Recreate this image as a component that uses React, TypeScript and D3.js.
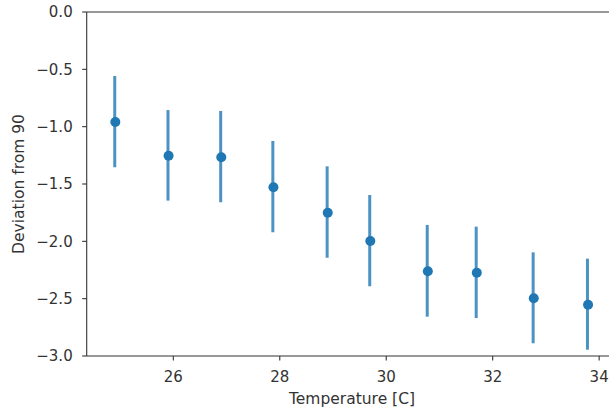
import React from "react";
import * as d3 from "d3";

const temps = [24.9, 25.9, 26.89, 27.87, 28.89, 29.69, 30.77, 31.69, 32.76, 33.78];
const means = [-0.959, -1.253, -1.267, -1.529, -1.75, -1.997, -2.261, -2.274, -2.497, -2.553];
const upper = [-0.558, -0.855, -0.863, -1.125, -1.346, -1.596, -1.857, -1.872, -2.096, -2.151];
const lower = [-1.354, -1.645, -1.659, -1.921, -2.143, -2.392, -2.657, -2.669, -2.889, -2.945];
const xTicks = [26, 28, 30, 32, 34];
const yTicks = [0, -0.5, -1.0, -1.5, -2.0, -2.5, -3.0];
const xLabel = "Temperature [C]";
const yLabel = "Deviation from 90";

const W = 609;
const H = 411;
const left = 86.7;
const right = 617.3;
const top = 12;
const bottom = 356;

export default function App() {
  const x = d3.scaleLinear().domain([26, 32]).range([173.3, 492.7]);
  const y = d3.scaleLinear().domain([0, -3]).range([top, bottom]);
  const fmtY = (v: number) => (v < 0 ? "\u2212" : "") + Math.abs(v).toFixed(1);
  const font = "DejaVu Sans, sans-serif";
  const textColor = "#333";
  const tickFs = 15;
  const labelFs = 15.5;
  return (
    <svg
      width={W}
      height={H}
      style={{ position: "absolute", left: 0, top: 0, background: "#fff" }}
    >
      {/* spines */}
      <line x1={left} x2={left} y1={top} y2={bottom} stroke="#333" strokeWidth={1.1} />
      <line x1={left} x2={right} y1={bottom} y2={bottom} stroke="#333" strokeWidth={1.1} />
      <line x1={left} x2={right} y1={top} y2={top} stroke="#333" strokeWidth={1.1} />
      <line x1={right} x2={right} y1={top} y2={bottom} stroke="#333" strokeWidth={1.1} />
      {/* y ticks */}
      {yTicks.map((t) => (
        <g key={"y" + t}>
          <line x1={left - 4.5} x2={left} y1={y(t)} y2={y(t)} stroke="#333" strokeWidth={1.1} />
          <text
            x={left - 14}
            y={y(t)}
            dy="0.36em"
            textAnchor="end"
            fontFamily={font}
            fontSize={tickFs}
            fill={textColor}
          >
            {fmtY(t)}
          </text>
        </g>
      ))}
      {/* x ticks */}
      {xTicks.map((t) => (
        <g key={"x" + t}>
          <line x1={x(t)} x2={x(t)} y1={bottom} y2={bottom + 4.5} stroke="#333" strokeWidth={1.1} />
          <text
            x={x(t)}
            y={382}
            textAnchor="middle"
            fontFamily={font}
            fontSize={tickFs}
            fill={textColor}
          >
            {t}
          </text>
        </g>
      ))}
      {/* axis labels */}
      <text
        x={(left + right) / 2}
        y={404}
        textAnchor="middle"
        fontFamily={font}
        fontSize={labelFs}
        fill={textColor}
      >
        {xLabel}
      </text>
      <text
        transform={`translate(23.5,${(top + bottom) / 2}) rotate(-90)`}
        textAnchor="middle"
        fontFamily={font}
        fontSize={labelFs}
        fill={textColor}
      >
        {yLabel}
      </text>
      {/* error bars */}
      {temps.map((t, i) => (
        <line
          key={"e" + i}
          x1={x(t)}
          x2={x(t)}
          y1={y(upper[i])}
          y2={y(lower[i])}
          stroke="#1f77b4"
          strokeOpacity={0.8}
          strokeWidth={3}
        />
      ))}
      {/* points */}
      {temps.map((t, i) => (
        <circle key={"p" + i} cx={x(t) + 0.6} cy={y(means[i])} r={5} fill="#1f77b4" />
      ))}
    </svg>
  );
}
